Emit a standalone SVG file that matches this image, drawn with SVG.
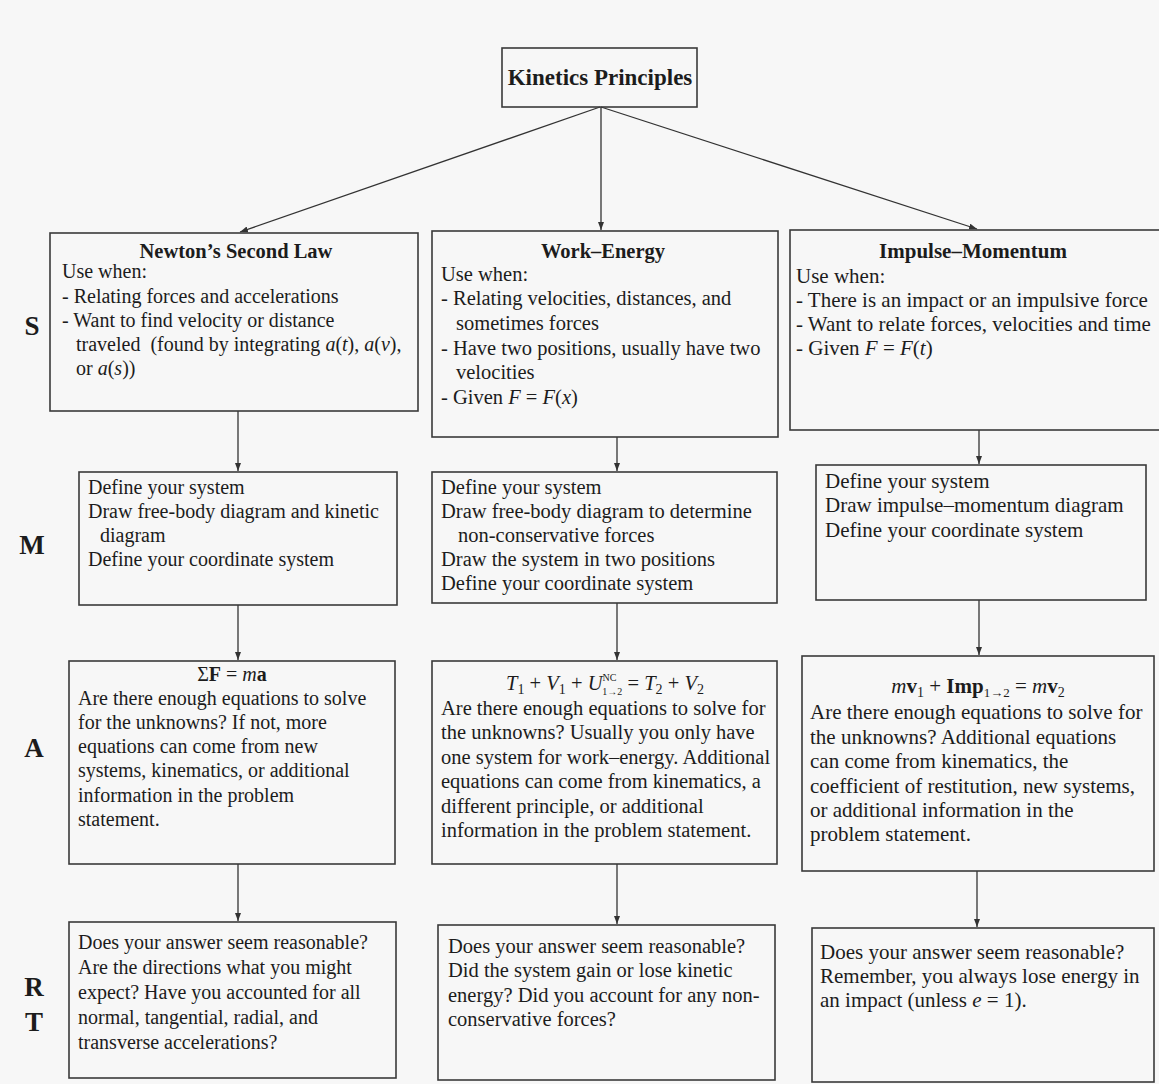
<svg xmlns="http://www.w3.org/2000/svg" width="1159" height="1084" viewBox="0 0 1159 1084">
<style>
  text { font-family: "Liberation Serif", "Times New Roman", serif; fill: #1c1c1c; }
  .t { font-size: 20px; }
  .tm { font-size: 20.5px; }
  .tr { font-size: 21px; }
  .b { font-weight: bold; }
  .h { font-size: 20.5px; font-weight: bold; text-anchor: middle; }
  .hr { font-size: 21px; font-weight: bold; text-anchor: middle; }
  .lab { font-size: 27px; font-weight: bold; text-anchor: middle; }
  .i { font-style: italic; }
  .box { fill: none; stroke: #3a3a3a; stroke-width: 1.6; }
  .con line { stroke: #333; stroke-width: 1.3; marker-end: url(#ah); }
</style>
<defs>
  <marker id="ah" viewBox="0 0 8 6" refX="8" refY="3" markerWidth="8" markerHeight="6" markerUnits="userSpaceOnUse" orient="auto">
    <path d="M0,0 L8,3 L0,6 z" fill="#333"/>
  </marker>
</defs>
<rect x="0" y="0" width="1159" height="1084" fill="#f7f7f7"/>

<g id="row-labels">
  <text class="lab" x="32" y="335">S</text>
  <text class="lab" x="32" y="554">M</text>
  <text class="lab" x="34" y="757">A</text>
  <text class="lab" x="34" y="996">R</text>
  <text class="lab" x="34" y="1031">T</text>
</g>

<g id="connectors" class="con">
  <line x1="600" y1="107" x2="240" y2="232"/>
  <line x1="601" y1="107" x2="601" y2="230"/>
  <line x1="601" y1="107" x2="977" y2="229"/>
  <line x1="238" y1="411" x2="238" y2="471"/>
  <line x1="617" y1="437" x2="617" y2="471"/>
  <line x1="979" y1="430" x2="979" y2="464"/>
  <line x1="238" y1="605" x2="238" y2="660"/>
  <line x1="617" y1="603" x2="617" y2="660"/>
  <line x1="979" y1="600" x2="979" y2="655"/>
  <line x1="238" y1="864" x2="238" y2="921"/>
  <line x1="617" y1="864" x2="617" y2="924"/>
  <line x1="977" y1="871" x2="977" y2="927"/>
</g>

<g id="kinetics-principles">
  <rect class="box" x="502" y="48" width="195" height="59"/>
  <text class="b" x="600" y="85" font-size="23" text-anchor="middle">Kinetics Principles</text>
</g>

<g id="newton-second-law">
  <rect class="box" x="50" y="233" width="368" height="178"/>
  <text class="h" x="236" y="258">Newton’s Second Law</text>
  <text class="t" x="62" y="278">Use when:</text>
  <text class="t" x="62" y="303">- Relating forces and accelerations</text>
  <text class="t" x="62" y="327">- Want to find velocity or distance</text>
  <text class="t" x="76" y="351">traveled&#160; (found by integrating <tspan class="i">a</tspan>(<tspan class="i">t</tspan>), <tspan class="i">a</tspan>(<tspan class="i">v</tspan>),</text>
  <text class="t" x="76" y="375">or <tspan class="i">a</tspan>(<tspan class="i">s</tspan>))</text>
</g>

<g id="work-energy">
  <rect class="box" x="432" y="231" width="346" height="206"/>
  <text class="h" x="603" y="258">Work–Energy</text>
  <text class="tm" x="441" y="281">Use when:</text>
  <text class="tm" x="441" y="305">- Relating velocities, distances, and</text>
  <text class="tm" x="456" y="330">sometimes forces</text>
  <text class="tm" x="441" y="355">- Have two positions, usually have two</text>
  <text class="tm" x="456" y="379">velocities</text>
  <text class="tm" x="441" y="404">- Given <tspan class="i">F</tspan> = <tspan class="i">F</tspan>(<tspan class="i">x</tspan>)</text>
</g>

<g id="impulse-momentum">
  <rect class="box" x="790" y="230" width="380" height="200"/>
  <text class="hr" x="973" y="258">Impulse–Momentum</text>
  <text class="tr" x="796" y="283">Use when:</text>
  <text class="tr" x="796" y="307">- There is an impact or an impulsive force</text>
  <text class="tr" x="796" y="331">- Want to relate forces, velocities and time</text>
  <text class="tr" x="796" y="355">- Given <tspan class="i">F</tspan> = <tspan class="i">F</tspan>(<tspan class="i">t</tspan>)</text>
</g>

<g id="m-newton">
  <rect class="box" x="79" y="472" width="318" height="133"/>
  <text class="t" x="88" y="494">Define your system</text>
  <text class="t" x="88" y="518">Draw free-body diagram and kinetic</text>
  <text class="t" x="100" y="542">diagram</text>
  <text class="t" x="88" y="566">Define your coordinate system</text>
</g>

<g id="m-work-energy">
  <rect class="box" x="432" y="472" width="345" height="131"/>
  <text class="tm" x="441" y="494">Define your system</text>
  <text class="tm" x="441" y="518">Draw free-body diagram to determine</text>
  <text class="tm" x="458" y="542">non-conservative forces</text>
  <text class="tm" x="441" y="566">Draw the system in two positions</text>
  <text class="tm" x="441" y="590">Define your coordinate system</text>
</g>

<g id="m-impulse-momentum">
  <rect class="box" x="816" y="465" width="330" height="135"/>
  <text class="tr" x="825" y="488">Define your system</text>
  <text class="tr" x="825" y="512">Draw impulse–momentum diagram</text>
  <text class="tr" x="825" y="537">Define your coordinate system</text>
</g>

<g id="a-newton">
  <rect class="box" x="69" y="661" width="326" height="203"/>
  <text class="t" x="232" y="681" text-anchor="middle">Σ<tspan class="b">F</tspan> = <tspan class="i">m</tspan><tspan class="b">a</tspan></text>
  <text class="t" x="78" y="705">Are there enough equations to solve</text>
  <text class="t" x="78" y="729">for the unknowns? If not, more</text>
  <text class="t" x="78" y="753">equations can come from new</text>
  <text class="t" x="78" y="777">systems, kinematics, or additional</text>
  <text class="t" x="78" y="802">information in the problem</text>
  <text class="t" x="78" y="826">statement.</text>
</g>

<g id="a-work-energy">
  <rect class="box" x="432" y="661" width="345" height="203"/>
  <text class="tm" x="605" y="690" text-anchor="middle"><tspan class="i">T</tspan><tspan font-size="14" dy="4">1</tspan><tspan dy="-4"> + </tspan><tspan class="i">V</tspan><tspan font-size="14" dy="4">1</tspan><tspan dy="-4"> + </tspan><tspan class="i">U</tspan><tspan font-size="10" dy="-9">NC</tspan><tspan font-size="10" dx="-14" dy="14">1→2</tspan><tspan dy="-5"> = </tspan><tspan class="i">T</tspan><tspan font-size="14" dy="4">2</tspan><tspan dy="-4"> + </tspan><tspan class="i">V</tspan><tspan font-size="14" dy="4">2</tspan></text>
  <text class="tm" x="441" y="715">Are there enough equations to solve for</text>
  <text class="tm" x="441" y="739">the unknowns? Usually you only have</text>
  <text class="tm" x="441" y="764">one system for work–energy. Additional</text>
  <text class="tm" x="441" y="788">equations can come from kinematics, a</text>
  <text class="tm" x="441" y="813">different principle, or additional</text>
  <text class="tm" x="441" y="837">information in the problem statement.</text>
</g>

<g id="a-impulse-momentum">
  <rect class="box" x="802" y="656" width="352" height="215"/>
  <text class="tr" x="978" y="693" text-anchor="middle"><tspan class="i">m</tspan><tspan class="b">v</tspan><tspan font-size="14" dy="4">1</tspan><tspan dy="-4"> + </tspan><tspan class="b">Imp</tspan><tspan font-size="13" dy="4">1→2</tspan><tspan dy="-4"> = </tspan><tspan class="i">m</tspan><tspan class="b">v</tspan><tspan font-size="14" dy="4">2</tspan></text>
  <text class="tr" x="810" y="719">Are there enough equations to solve for</text>
  <text class="tr" x="810" y="744">the unknowns? Additional equations</text>
  <text class="tr" x="810" y="768">can come from kinematics, the</text>
  <text class="tr" x="810" y="793">coefficient of restitution, new systems,</text>
  <text class="tr" x="810" y="817">or additional information in the</text>
  <text class="tr" x="810" y="841">problem statement.</text>
</g>

<g id="rt-newton">
  <rect class="box" x="69" y="922" width="327" height="156"/>
  <text class="t" x="78" y="949">Does your answer seem reasonable?</text>
  <text class="t" x="78" y="974">Are the directions what you might</text>
  <text class="t" x="78" y="999">expect? Have you accounted for all</text>
  <text class="t" x="78" y="1024">normal, tangential, radial, and</text>
  <text class="t" x="78" y="1049">transverse accelerations?</text>
</g>

<g id="rt-work-energy">
  <rect class="box" x="438" y="925" width="337" height="155"/>
  <text class="tm" x="448" y="953">Does your answer seem reasonable?</text>
  <text class="tm" x="448" y="977">Did the system gain or lose kinetic</text>
  <text class="tm" x="448" y="1002">energy? Did you account for any non-</text>
  <text class="tm" x="448" y="1026">conservative forces?</text>
</g>

<g id="rt-impulse-momentum">
  <rect class="box" x="812" y="928" width="342" height="154"/>
  <text class="tr" x="820" y="959">Does your answer seem reasonable?</text>
  <text class="tr" x="820" y="983">Remember, you always lose energy in</text>
  <text class="tr" x="820" y="1007">an impact (unless <tspan class="i">e</tspan> = 1).</text>
</g>
</svg>
